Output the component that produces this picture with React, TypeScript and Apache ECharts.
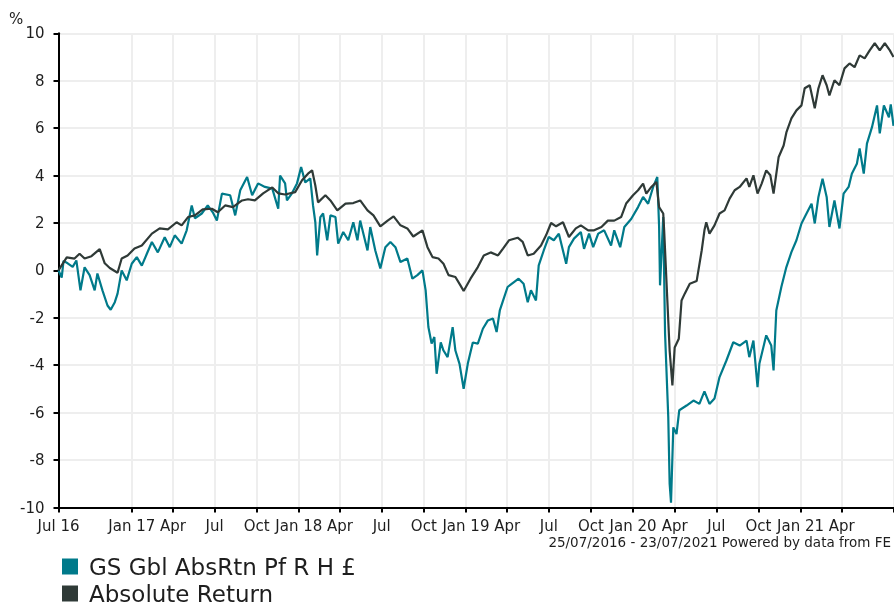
import React, { useEffect, useRef } from "react";
import * as echarts from "echarts";

// Period covered by the chart
const START_DATE = "2016-07-25";
const END_DATE = "2021-07-23";

// Quarter ticks (labelled) and their labels
const TICK_DATES = [
  "2016-07-25", "2017-01-01", "2017-04-01", "2017-07-01", "2017-10-01",
  "2018-01-01", "2018-04-01", "2018-07-01", "2018-10-01",
  "2019-01-01", "2019-04-01", "2019-07-01", "2019-10-01",
  "2020-01-01", "2020-04-01", "2020-07-01", "2020-10-01",
  "2021-01-01", "2021-04-01",
];
const TICK_LABELS = [
  "Jul 16", "Jan 17", "Apr", "Jul", "Oct",
  "Jan 18", "Apr", "Jul", "Oct",
  "Jan 19", "Apr", "Jul", "Oct",
  "Jan 20", "Apr", "Jul", "Oct",
  "Jan 21", "Apr",
];

const SERIES_NAMES = ["GS Gbl AbsRtn Pf R H £", "Absolute Return"];

// GS Gbl AbsRtn Pf R H £ : days since 25/07/2016, cumulative % return
const FUND_DAYS = [
  0, 7, 11, 20, 31, 39, 48, 57, 68, 79, 85, 96, 107, 114, 123, 129, 138, 149, 160, 171,
  182, 193, 204, 217, 232, 243, 254, 269, 280, 291, 298, 313, 326, 337, 346, 357, 375, 386, 397, 412,
  423, 436, 451, 467, 480, 484, 495, 499, 510, 521, 530, 539, 550, 556, 561, 565, 572, 578, 587, 594,
  605, 611, 622, 633, 644, 653, 659, 666, 675, 681, 692, 703, 714, 725, 736, 747, 762, 773, 784, 795,
  802, 808, 815, 821, 826, 835, 841, 850, 861, 867, 876, 885, 894, 905, 916, 927, 938, 949, 957, 964,
  970, 981, 995, 1005, 1016, 1025, 1032, 1043, 1049, 1060, 1071, 1082, 1093, 1109, 1115, 1126, 1141, 1148, 1159, 1168,
  1179, 1192, 1207, 1214, 1227, 1236, 1251, 1266, 1277, 1288, 1299, 1308, 1312, 1314, 1321, 1325, 1332, 1335, 1338, 1343,
  1350, 1356, 1372, 1387, 1400, 1411, 1422, 1433, 1444, 1459, 1474, 1488, 1503, 1509, 1518, 1527, 1531, 1546, 1557, 1562,
  1568, 1579, 1590, 1601, 1612, 1623, 1634, 1645, 1652, 1660, 1669, 1678, 1684, 1695, 1706, 1715, 1726, 1733, 1744, 1750,
  1759, 1766, 1777, 1788, 1794, 1803, 1814, 1818, 1824,
];
const FUND_VALUES = [
  0, -0.3, 0.4, 0.3, 0.15, 0.42, -0.84, 0.13, -0.2, -0.84, -0.13, -0.84, -1.48, -1.66, -1.34, -0.98, 0, -0.42, 0.28, 0.56,
  0.2, 0.7, 1.2, 0.76, 1.4, 0.98, 1.48, 1.13, 1.69, 2.74, 2.2, 2.4, 2.74, 2.45, 2.1, 3.24, 3.17, 2.32, 3.38, 3.94,
  3.17, 3.67, 3.52, 3.45, 2.6, 4.0, 3.67, 2.95, 3.25, 3.67, 4.36, 3.71, 3.88, 2.74, 2.03, 0.63, 2.25, 2.4, 1.27, 2.32,
  2.25, 1.13, 1.62, 1.27, 2.03, 1.27, 2.1, 1.55, 0.84, 1.83, 0.84, 0.08, 0.98, 1.2, 0.98, 0.35, 0.5, -0.35, -0.2, 0,
  -0.84, -2.39, -3.09, -2.81, -4.36, -3.04, -3.38, -3.66, -2.39, -3.38, -3.94, -4.99, -3.94, -3.04, -3.09, -2.46, -2.11, -2.03, -2.6, -1.69,
  -1.34, -0.7, -0.49, -0.35, -0.56, -1.34, -0.84, -1.27, 0.21, 0.84, 1.41, 1.27, 1.55, 0.28, 0.98, 1.34, 1.62, 0.91, 1.55, 0.98,
  1.55, 1.69, 1.05, 1.69, 0.98, 1.83, 2.17, 2.67, 3.1, 2.81, 3.52, 3.94, 1.83, -0.63, 2.25, -2.67, -6.2, -9.0, -9.8, -6.62,
  -6.9, -5.9, -5.7, -5.49, -5.63, -5.1, -5.63, -5.4, -4.5, -3.8, -3.03, -3.17, -2.96, -3.66, -2.96, -4.92, -3.94, -2.74, -3.17, -4.22,
  -1.69, -0.7, 0.14, 0.77, 1.27, 1.98, 2.4, 2.81, 1.98, 3.1, 3.87, 3.1, 1.83, 2.95, 1.77, 3.24, 3.52, 4.08, 4.5, 5.14,
  4.08, 5.35, 6.04, 6.96, 5.78, 6.96, 6.46, 7.0, 6.1,
];

// Absolute Return sector : days since 25/07/2016, cumulative % return
const SECTOR_DAYS = [
  0, 18, 35, 46, 57, 72, 90, 101, 112, 129, 138, 151, 166, 182, 204, 221, 239, 258, 269, 283,
  298, 315, 335, 348, 364, 381, 401, 414, 429, 447, 467, 480, 495, 517, 532, 545, 554, 561, 567, 583,
  594, 609, 627, 644, 659, 675, 688, 703, 719, 732, 747, 762, 775, 795, 806, 817, 830, 841, 852, 867,
  878, 885, 900, 916, 929, 944, 960, 971, 984, 1003, 1014, 1025, 1038, 1054, 1065, 1076, 1087, 1102, 1115, 1130,
  1141, 1157, 1170, 1186, 1200, 1214, 1229, 1240, 1255, 1266, 1277, 1284, 1295, 1306, 1312, 1321, 1323, 1330, 1335, 1341,
  1346, 1355, 1361, 1368, 1379, 1394, 1405, 1411, 1415, 1422, 1433, 1444, 1455, 1466, 1477, 1488, 1503, 1509, 1518, 1527,
  1536, 1546, 1555, 1562, 1573, 1584, 1590, 1601, 1612, 1623, 1630, 1641, 1652, 1660, 1669, 1678, 1684, 1695, 1706, 1717,
  1728, 1739, 1750, 1761, 1772, 1783, 1794, 1805, 1816, 1824,
];
const SECTOR_VALUES = [
  0, 0.55, 0.5, 0.7, 0.5, 0.6, 0.9, 0.3, 0.1, -0.1, 0.5, 0.63, 0.92, 1.05, 1.55, 1.77, 1.73, 2.03, 1.9, 2.25,
  2.32, 2.57, 2.6, 2.45, 2.74, 2.67, 2.95, 3.0, 2.95, 3.25, 3.5, 3.25, 3.2, 3.3, 3.8, 4.08, 4.22, 3.58, 2.87, 3.17,
  2.95, 2.53, 2.82, 2.84, 2.95, 2.53, 2.32, 1.86, 2.1, 2.28, 1.9, 1.77, 1.43, 1.69, 0.98, 0.56, 0.5, 0.28, -0.2, -0.28,
  -0.63, -0.87, -0.35, 0.14, 0.63, 0.76, 0.63, 0.92, 1.27, 1.38, 1.2, 0.63, 0.7, 1.05, 1.48, 2.0, 1.86, 2.03, 1.41, 1.77,
  1.9, 1.69, 1.69, 1.83, 2.1, 2.1, 2.25, 2.82, 3.17, 3.38, 3.66, 3.24, 3.52, 3.73, 2.67, 2.4, 1.69, -1.27, -3.38, -4.85,
  -3.25, -2.88, -1.27, -0.98, -0.56, -0.45, 0.84, 1.69, 2.03, 1.55, 1.9, 2.4, 2.53, 3.03, 3.38, 3.52, 3.88, 3.52, 4.01, 3.24,
  3.66, 4.22, 4.01, 3.24, 4.77, 5.27, 5.82, 6.41, 6.75, 6.96, 7.68, 7.81, 6.84, 7.68, 8.23, 7.81, 7.38, 8.02, 7.81, 8.52,
  8.73, 8.57, 9.07, 8.94, 9.28, 9.58, 9.28, 9.58, 9.28, 9.0,
];

const Y_MIN = -10;
const Y_MAX = 10;
const Y_STEP = 2;

const FOOTER = "25/07/2016 - 23/07/2021 Powered by data from FE";
const Y_UNIT = "%";

const DAY_MS = 86400000;
const FONT = "'DejaVu Sans', Verdana, sans-serif";
const TEAL = "#007a8a";
const DARK = "#2f3a37";
const GRID = "#eeeeee";
const TEXT = "#1e1e1e";

export default function App() {
  const ref = useRef<HTMLDivElement>(null);

  useEffect(() => {
    if (!ref.current) return;
    const chart = echarts.init(ref.current, null, { renderer: "svg" });
    const start = Date.parse(START_DATE);
    const end = Date.parse(END_DATE);
    const tickTimes = TICK_DATES.map((d) => Date.parse(d));
    const toPairs = (days: number[], vals: number[]) =>
      days.map((d, i) => [start + d * DAY_MS, vals[i]]);

    const labelFor = (v: number) => {
      for (let i = 0; i < tickTimes.length; i++) {
        if (Math.abs(tickTimes[i] - v) < DAY_MS / 2) return TICK_LABELS[i];
      }
      return "";
    };

    chart.setOption({
      animation: false,
      textStyle: { fontFamily: FONT },
      grid: { left: 58.5, right: 0.5, top: 33.3, bottom: 98.5, containLabel: false },
      legend: {
        orient: "vertical",
        left: 62,
        top: 555,
        height: 60,
        padding: 0,
        itemWidth: 16,
        itemHeight: 16,
        itemGap: 4,
        icon: "rect",
        textStyle: { fontSize: 23, color: TEXT, fontFamily: FONT, padding: [0, 0, 0, 6] },
        data: [
          { name: SERIES_NAMES[0], itemStyle: { color: TEAL } },
          { name: SERIES_NAMES[1], itemStyle: { color: DARK } },
        ],
      },
      xAxis: {
        type: "value",
        min: start,
        max: end,
        axisLine: { show: true, onZero: false, lineStyle: { color: "#000", width: 2 } },
        axisTick: {
          show: true,
          length: 5,
          lineStyle: { color: "#000", width: 2 },
          customValues: [...tickTimes, end],
        },
        axisLabel: {
          customValues: tickTimes,
          formatter: (v: number) => labelFor(v),
          color: TEXT,
          fontSize: 15,
          lineHeight: 15,
          fontFamily: FONT,
          margin: 11,
          hideOverlap: false,
        },
        splitLine: { show: true, lineStyle: { color: GRID, width: 2 } },
      },
      yAxis: {
        type: "value",
        min: Y_MIN,
        max: Y_MAX,
        interval: Y_STEP,
        axisLine: { show: true, onZero: false, lineStyle: { color: "#000", width: 2 } },
        axisTick: { show: true, length: 5, lineStyle: { color: "#000", width: 2 } },
        axisLabel: { color: TEXT, fontSize: 15, fontFamily: FONT, margin: 14 },
        splitLine: { show: true, lineStyle: { color: GRID, width: 2 } },
      },
      series: [
        {
          name: SERIES_NAMES[0],
          type: "line",
          data: toPairs(FUND_DAYS, FUND_VALUES),
          showSymbol: false,
          symbol: "none",
          lineStyle: { color: TEAL, width: 2.2 },
          itemStyle: { color: TEAL },
          z: 2,
        },
        {
          name: SERIES_NAMES[1],
          type: "line",
          data: toPairs(SECTOR_DAYS, SECTOR_VALUES),
          showSymbol: false,
          symbol: "none",
          lineStyle: { color: DARK, width: 2.2 },
          itemStyle: { color: DARK },
          z: 3,
        },
      ],
      graphic: [
        {
          type: "text",
          left: 9,
          top: 11,
          style: { text: Y_UNIT, fontSize: 15, fill: TEXT, fontFamily: FONT },
        },
        {
          type: "text",
          right: 3,
          top: 535,
          style: { text: FOOTER, fontSize: 13.5, lineHeight: 12, fill: TEXT, fontFamily: FONT },
        },
      ],
    });
    return () => chart.dispose();
  }, []);

  return (
    <div
      ref={ref}
      style={{ position: "fixed", left: 0, top: 0, width: 894, height: 606 }}
    />
  );
}
